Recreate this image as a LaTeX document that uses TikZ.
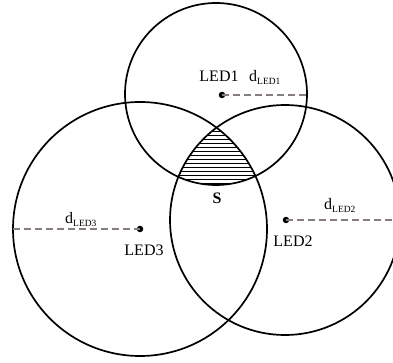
\documentclass[tikz,border=0pt]{standalone}
\usepackage{fontspec}
\setmainfont{Liberation Serif}
\begin{document}
\begin{tikzpicture}[x=1pt,y=-1pt,
  circ/.style={draw=black,line width=1.7pt},
  rad/.style={draw={rgb,255:red,135;green,125;blue,125},line width=1.5pt,dash pattern=on 7pt off 4pt},
  led/.style={circle,fill=black,inner sep=0pt,minimum size=6.5pt},
  lbl/.style={font=\fontsize{16}{18}\selectfont,inner sep=0pt},
  hatch/.style={draw=black,line width=1pt}]
\useasboundingbox (0,0) rectangle (393,363);
\begin{scope}
  \clip (0,0) rectangle (393,363);
  % hatched intersection
  \begin{scope}
    \clip (216,94) circle[radius=91];
    \clip (285,220) circle[radius=115];
    \clip (140,229) circle[radius=127];
    \foreach \yy in {128,132,...,192} {\draw[hatch] (150,\yy) -- (290,\yy);}
  \end{scope}
  \draw[circ] (216,94) circle[radius=91];
  \draw[circ] (285,220) circle[radius=115];
  \draw[circ] (140,229) circle[radius=127];
  \node[led] (l1) at (222,95) {};
  \node[led] (l2) at (286,220) {};
  \node[led] (l3) at (140,229) {};
  \coordinate (e1) at (307,95);
  \coordinate (e2) at (393,220);
  \coordinate (e3) at (13,229);
  \draw[rad] (l1.center) -- (e1);
  \draw[rad] (l2.center) -- (e2);
  \draw[rad] (e3) -- (l3.center);
\end{scope}
\node[lbl,anchor=base] (t1) at (219,82) {LED1};
\node[lbl,anchor=base west] (d1) at (249,82) {d\textsubscript{\fontsize{9.5}{10}\selectfont LED1}};
\node[lbl,anchor=base] (t3) at (144,255) {LED3};
\node[lbl,anchor=base west] (d3) at (65,224) {d\textsubscript{\fontsize{9.5}{10}\selectfont LED3}};
\node[lbl,anchor=base] (t2) at (293,247) {LED2};
\node[lbl,anchor=base west] (d2) at (324,210) {d\textsubscript{\fontsize{9.5}{10}\selectfont LED2}};
\node[lbl,anchor=base,font=\fontsize{16}{18}\selectfont\bfseries] (s) at (217,204) {S};
\end{tikzpicture}
\end{document}
